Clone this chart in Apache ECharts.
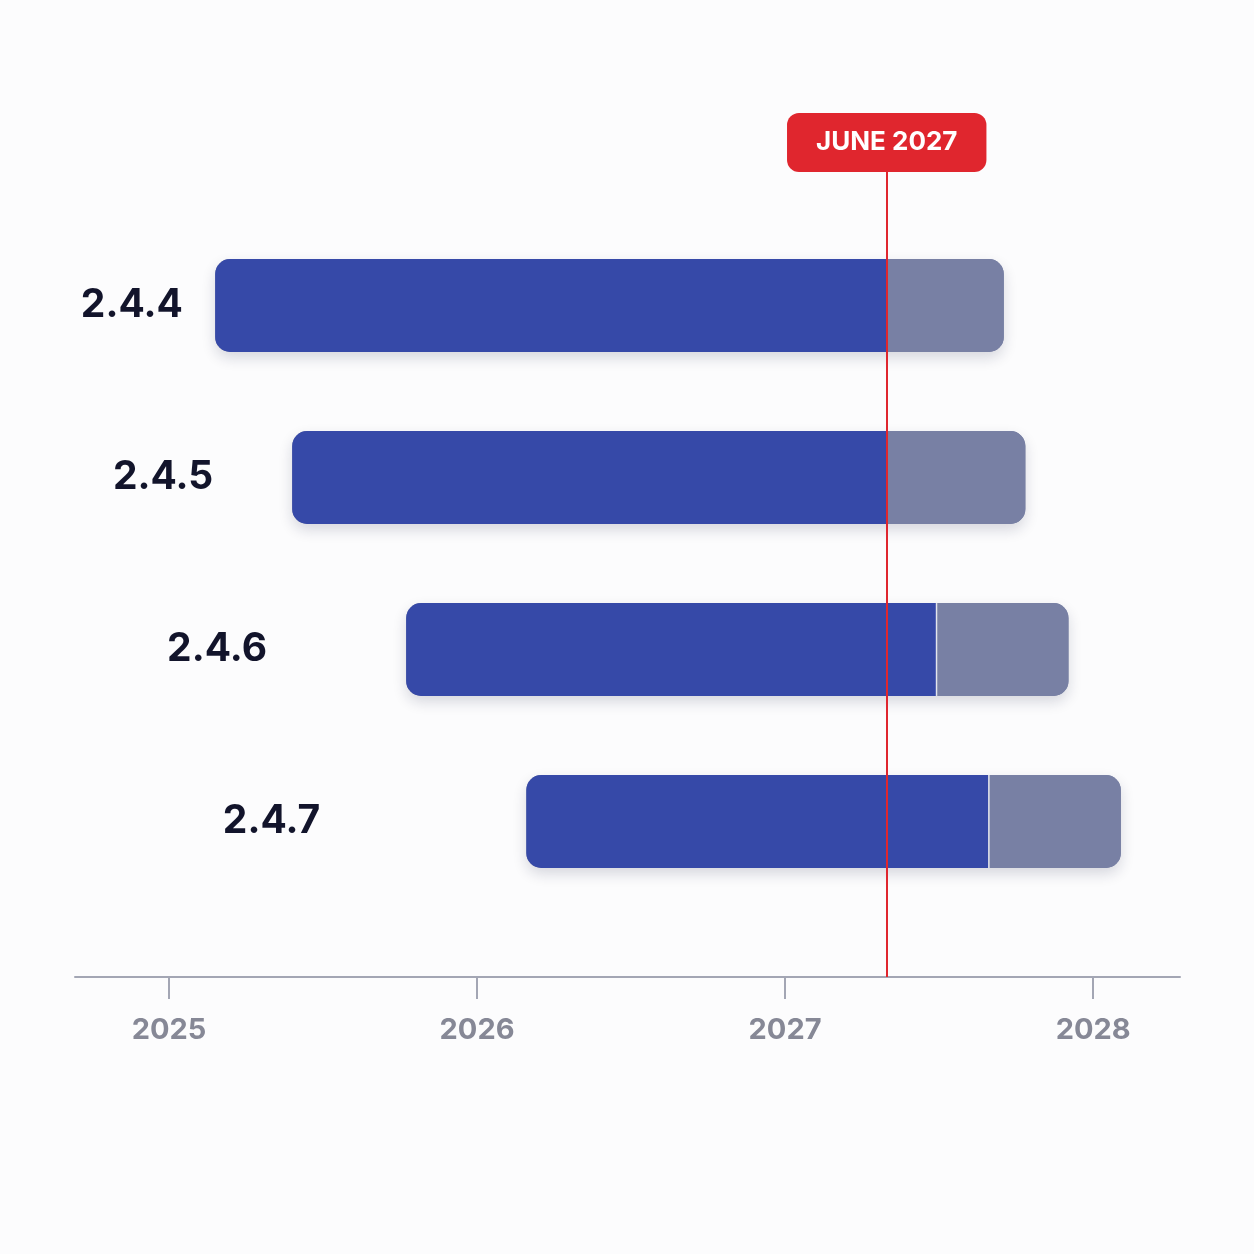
<!DOCTYPE html>
<html>
<head>
<meta charset="utf-8">
<script src="https://cdn.jsdelivr.net/npm/echarts@6/dist/echarts.min.js"></script>
<style>
  html, body { margin: 0; padding: 0; background: #fcfcfd; }
  #chart { width: 1254px; height: 1254px; }
</style>
</head>
<body>
<div id="chart"></div>
<script>
// releases, top to bottom
var versions = ["2.4.4", "2.4.5", "2.4.6", "2.4.7"];
var startYear = [2025.15, 2025.40, 2025.77, 2026.16];
var splitYear = [2027.33, 2027.33, 2027.49, 2027.66];
var endYear = [2027.71, 2027.78, 2027.92, 2028.09];
// where each version label starts
var labelYear = [2024.714, 2024.818, 2024.994, 2025.175];
var yearTicks = [2025, 2026, 2027, 2028];
var markYear = 2027.33;
var markText = "JUNE 2027";

var blue = "#3649a8";
var grey = "#7880a4";

var rows = [];
for (var i = 0; i < versions.length; i++) {
  rows.push([i, startYear[i], splitYear[i], endYear[i], labelYear[i]]);
}

function renderBar(params, api) {
  var row = api.value(0);
  var p0 = api.coord([api.value(1), row]);
  var p1 = api.coord([api.value(2), row]);
  var p2 = api.coord([api.value(3), row]);
  var pl = api.coord([api.value(4), row]);
  var h = api.size([0, 1])[1] * 0.54;
  var top = p0[1] - h / 2;
  var r = 15;
  return {
    type: "group",
    children: [
      {
        type: "rect",
        shape: { x: p0[0], y: top, width: p2[0] - p0[0], height: h, r: r },
        style: { fill: grey, shadowBlur: 14, shadowOffsetY: 6, shadowColor: "rgba(20,25,60,0.16)" }
      },
      {
        type: "rect",
        shape: { x: p0[0], y: top, width: p1[0] - p0[0], height: h, r: [r, 0, 0, r] },
        style: { fill: blue }
      },
      {
        type: "rect",
        shape: { x: p1[0], y: top, width: p2[0] - p1[0], height: h, r: [0, r, r, 0] },
        style: { fill: grey }
      },
      {
        type: "line",
        shape: { x1: p1[0] + 0.5, y1: top, x2: p1[0] + 0.5, y2: top + h },
        style: { stroke: "rgba(255,255,255,0.8)", lineWidth: 1.5 }
      },
      {
        type: "text",
        x: pl[0],
        y: pl[1],
        style: {
          text: versions[row],
          fill: "#12142b",
          font: "bold 39px Inter",
          align: "left",
          verticalAlign: "middle"
        }
      }
    ]
  };
}

var myChart = echarts.init(document.getElementById("chart"));

var option = {
  backgroundColor: "#fcfcfd",
  animation: false,
  grid: { left: 75, right: 74, top: 172, bottom: 277 },
  xAxis: {
    type: "value",
    min: 2024.695,
    max: 2028.282,
    splitLine: { show: false },
    axisLine: { show: true, onZero: false, lineStyle: { color: "#a3a6b4", width: 2 } },
    axisTick: { show: true, length: 22, customValues: yearTicks, lineStyle: { color: "#a3a6b4", width: 2 } },
    axisLabel: {
      customValues: yearTicks,
      margin: 39,
      color: "#868896",
      fontFamily: "Inter",
      fontWeight: "bold",
      fontSize: 29,
      formatter: function (v) { return String(Math.round(v)); }
    }
  },
  yAxis: {
    type: "value",
    inverse: true,
    min: -0.776,
    max: 3.904,
    show: false
  },
  series: [{
    type: "custom",
    renderItem: renderBar,
    data: rows,
    encode: { x: [1, 2, 3], y: 0 },
    z: 2,
    markLine: {
      silent: true,
      symbol: ["none", "none"],
      z: 5,
      lineStyle: { color: "#e0262e", width: 2, type: "solid" },
      label: {
        show: true,
        position: "end",
        distance: 0,
        formatter: markText,
        color: "#ffffff",
        fontFamily: "Inter",
        fontWeight: "bold",
        fontSize: 26,
        lineHeight: 29,
        backgroundColor: "#e0262e",
        borderRadius: 12,
        padding: [15, 29, 15, 29]
      },
      data: [[
        { coord: [markYear, 3.904] },
        { coord: [markYear, -0.776] }
      ]]
    }
  }]
};

myChart.setOption(option);
</script>
</body>
</html>
